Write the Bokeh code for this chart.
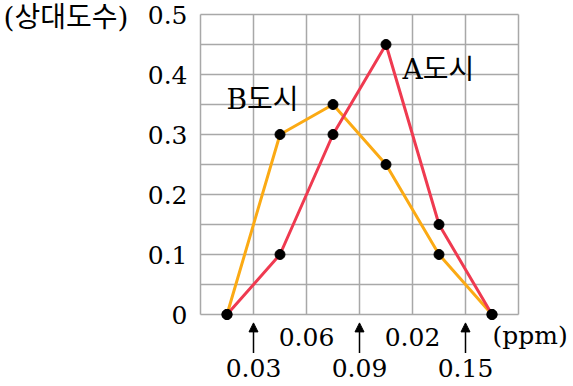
from bokeh.plotting import figure
from bokeh.models import FixedTicker, Label, LinearAxis, Arrow, NormalHead, ColumnDataSource
from bokeh.embed import file_html
from bokeh.resources import INLINE

# class midpoints (ppm)
mid = [0.015, 0.045, 0.075, 0.105, 0.135, 0.165]
city_a = [0.0, 0.1, 0.3, 0.45, 0.15, 0.0]
city_b = [0.0, 0.3, 0.35, 0.25, 0.1, 0.0]

y_ticks = [0, 0.1, 0.2, 0.3, 0.4, 0.5]
y_labels = ["0", "0.1", "0.2", "0.3", "0.4", "0.5"]
x_ticks_row1 = [0.06, 0.12]
x_labels_row1 = ["0.06", "0.02"]
x_ticks_row2 = [0.03, 0.09, 0.15]
x_labels_row2 = ["0.03", "0.09", "0.15"]
x_grid = [0, 0.03, 0.06, 0.09, 0.12, 0.15, 0.18]
y_grid = [0, 0.05, 0.1, 0.15, 0.2, 0.25, 0.3, 0.35, 0.4, 0.45, 0.5]

FONT = "'DejaVu Serif', 'Noto Sans CJK KR', serif"
FS = "25px"
KFS = "28px"

W, H = 572, 385
px_per_x = 318 / 0.18
px_per_y = 300 / 0.5
x0 = -200 / px_per_x
y1 = 0.5 + 14 / px_per_y

p = figure(width=W, height=H,
           x_range=(x0, x0 + W / px_per_x), y_range=(y1 - H / px_per_y, y1),
           output_backend="svg", toolbar_location=None)
p.min_border = 0
p.min_border_left = p.min_border_right = p.min_border_top = p.min_border_bottom = 0
p.outline_line_color = None
p.xgrid.visible = False
p.ygrid.visible = False

# grid
grid_color = "#a8a8a8"
p.segment(x0=x_grid, y0=[y_grid[0]] * len(x_grid), x1=x_grid, y1=[y_grid[-1]] * len(x_grid),
          line_color=grid_color, line_width=1.5)
p.segment(x0=[x_grid[0]] * len(y_grid), y0=y_grid, x1=[x_grid[-1]] * len(y_grid), y1=y_grid,
          line_color=grid_color, line_width=1.5)

def style_axis(ax):
    ax.axis_line_color = None
    ax.major_tick_line_color = None
    ax.minor_tick_line_color = None
    ax.major_label_text_font = FONT
    ax.major_label_text_font_size = FS
    ax.major_label_text_color = "black"

p.yaxis.fixed_location = 0
p.yaxis.ticker = FixedTicker(ticks=y_ticks)
p.yaxis.major_label_overrides = {t: l for t, l in zip(y_ticks, y_labels)}
p.yaxis.major_label_standoff = 7
style_axis(p.yaxis[0])

p.xaxis.fixed_location = 0
p.xaxis.ticker = FixedTicker(ticks=x_ticks_row1)
p.xaxis.major_label_overrides = {t: l for t, l in zip(x_ticks_row1, x_labels_row1)}
p.xaxis.major_label_standoff = 7
style_axis(p.xaxis[0])

ax2 = LinearAxis(fixed_location=0, ticker=FixedTicker(ticks=x_ticks_row2),
                 major_label_overrides={t: l for t, l in zip(x_ticks_row2, x_labels_row2)},
                 major_label_standoff=38)
style_axis(ax2)
p.add_layout(ax2, "below")

# arrows under the class boundaries
arr_src = ColumnDataSource(dict(x=x_ticks_row2, ys=[-0.064] * 3, ye=[-0.014] * 3))
p.add_layout(Arrow(x_start="x", y_start="ys", x_end="x", y_end="ye", source=arr_src,
                   line_color="black", line_width=1.5,
                   end=NormalHead(size=9, fill_color="black", line_color="black", line_width=1)))

# series
p.line(mid, city_b, line_color="#FBAA14", line_width=3)
p.line(mid, city_a, line_color="#EF3A50", line_width=3)
p.scatter(mid, city_b, size=10, color="black")
p.scatter(mid, city_a, size=10, color="black")

def label(x, y, text, size=KFS):
    p.add_layout(Label(x=x, y=y, text=text, text_font=FONT, text_font_size=size,
                       text_baseline="middle", text_align="left", text_color="black"))

label(0.1143, 0.408, "A도시")
label(0.0147, 0.358, "B도시")
label(-0.1115, 0.495, "(상대도수)")
label(0.1653, -0.035, "(ppm)", FS)

open("out.html", "w").write(file_html(p, INLINE))
